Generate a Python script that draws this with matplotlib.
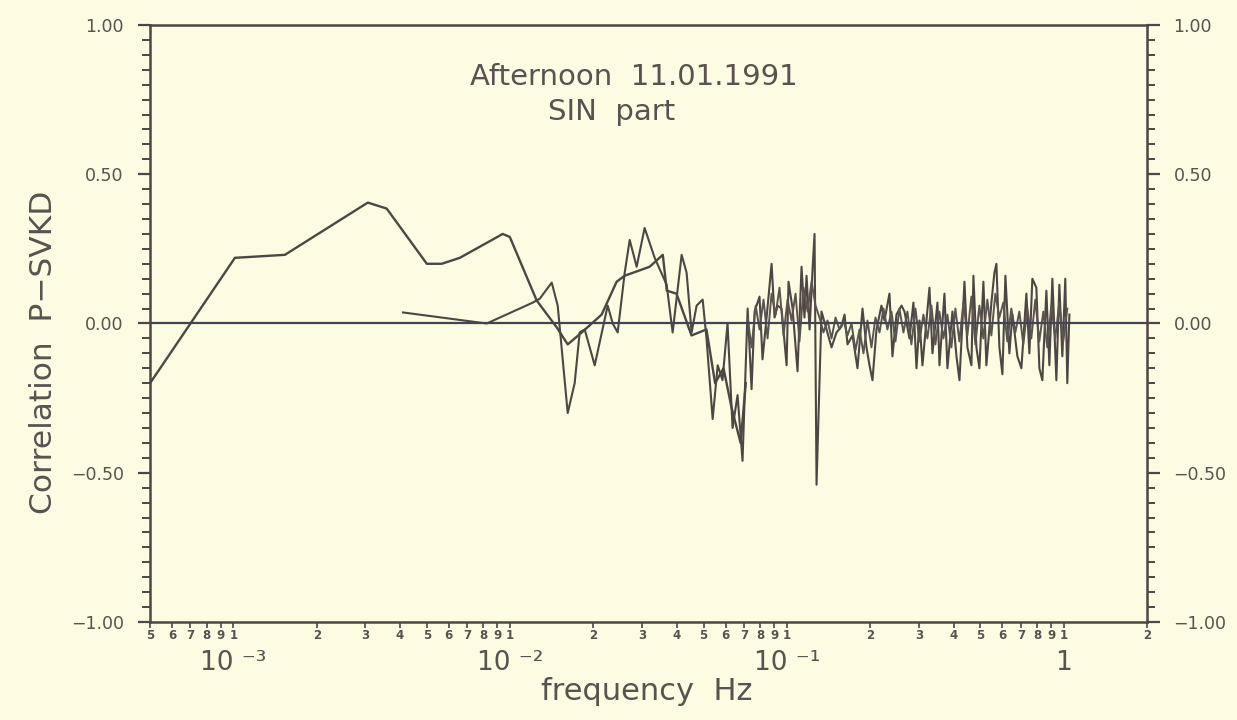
import matplotlib
matplotlib.use("Agg")
import matplotlib.pyplot as plt
from matplotlib.ticker import FixedLocator, FixedFormatter, MultipleLocator

# ---------------- data ----------------
freq_a = [5.0e-4, 1.013e-3, 1.535e-3, 3.06e-3, 3.58e-3, 5.0e-3, 5.66e-3, 6.58e-3,
          9.40e-3, 9.97e-3, 1.247e-2, 1.473e-2, 1.614e-2, 1.814e-2, 2.141e-2,
          2.425e-2, 2.593e-2, 3.19e-2, 3.56e-2, 3.68e-2, 3.99e-2, 4.52e-2,
          5.12e-2, 5.5e-2, 5.9e-2, 6.3e-2, 6.8e-2, 7.1e-2]
corr_a = [-0.20, 0.22, 0.23, 0.405, 0.385, 0.20, 0.20, 0.22,
          0.30, 0.29, 0.077, -0.013, -0.07, -0.03, 0.03,
          0.14, 0.16, 0.19, 0.23, 0.11, 0.10, -0.04,
          -0.02, -0.20, -0.15, -0.28, -0.40, -0.20]

freq_b = [4.10e-3, 8.23e-3, 1.207e-2, 1.279e-2, 1.413e-2, 1.485e-2, 1.614e-2,
          1.710e-2, 1.783e-2, 1.859e-2, 2.020e-2, 2.251e-2, 2.347e-2, 2.446e-2,
          2.593e-2, 2.703e-2, 2.864e-2, 3.060e-2, 3.327e-2, 3.675e-2, 3.864e-2,
          4.164e-2, 4.340e-2, 4.523e-2, 4.717e-2, 4.96e-2, 5.12e-2, 5.39e-2,
          5.62e-2, 5.85e-2, 6.10e-2, 6.36e-2, 6.63e-2, 6.91e-2, 7.21e-2, 7.45e-2,
          7.64e-2, 7.96e-2, 8.16e-2, 8.44e-2, 8.80e-2, 9.02e-2, 9.25e-2, 9.56e-2,
          9.97e-2, 0.1013, 0.1048, 0.1092, 0.1129, 0.1157, 0.1177, 0.1207, 0.1237,
          0.1258, 0.1279, 0.1333, 0.1390, 0.1449, 0.1510, 0.1574, 0.1614, 0.1655,
          0.1725, 0.1798, 0.1875, 0.1938, 0.1987, 0.2037, 0.2106, 0.2195, 0.2251,
          0.2346, 0.2405, 0.2487, 0.2593, 0.2658, 0.2771, 0.2864, 0.2937, 0.3011,
          0.3087, 0.3192, 0.3272, 0.3355, 0.3497, 0.3556, 0.3707, 0.3800, 0.3962,
          0.4097, 0.4200, 0.4378, 0.4487, 0.4639, 0.4717, 0.4836, 0.4958, 0.5125,
          0.5255, 0.5478, 0.5617, 0.5711, 0.5855, 0.6003, 0.6155, 0.6362, 0.6523,
          0.6800, 0.7030, 0.7328, 0.7513, 0.7702, 0.7963, 0.8165, 0.8370, 0.8654,
          0.8872, 0.9096, 0.9404, 0.9641, 0.9884, 1.013, 1.030, 1.048]
corr_b = [0.037, 0.0, 0.07, 0.083, 0.137, 0.06, -0.30,
          -0.20, -0.03, -0.02, -0.14, 0.06, 0.0, -0.03,
          0.17, 0.28, 0.19, 0.32, 0.22, 0.13, -0.03,
          0.23, 0.17, -0.03, 0.06, 0.08, -0.05, -0.32,
          -0.14, -0.19, 0.0, -0.35, -0.24, -0.46, 0.05, -0.22,
          0.04, 0.09, -0.12, 0.02, 0.20, 0.02, 0.06, 0.05,
          -0.14, 0.14, 0.05, -0.16, 0.19, 0.02, 0.16, -0.02, 0.18,
          0.30, -0.54, 0.04, -0.02, -0.08, -0.03, -0.01, 0.03, -0.07,
          -0.04, -0.15, 0.05, -0.08, -0.14, -0.19, -0.02, 0.06, 0.01,
          0.10, -0.11, 0.03, 0.06, 0.04, -0.05, 0.07, -0.15, 0.01,
          -0.14, 0.01, 0.12, -0.10, 0.07, -0.14, 0.10, -0.15, 0.04,
          -0.11, -0.19, 0.14, -0.08, -0.14, 0.16, -0.08, -0.15, 0.14,
          -0.14, 0.07, 0.17, 0.20, -0.08, -0.17, 0.16, -0.10, 0.03,
          -0.11, -0.15, 0.10, -0.10, 0.15, 0.12, -0.15, -0.19, 0.11,
          -0.14, 0.15, -0.19, 0.13, -0.11, 0.15, -0.20, 0.03]

# dense inner band of the overlapping high-frequency traces
freq_c = [0.0721, 0.0745, 0.0771, 0.0796, 0.0823, 0.0851, 0.0880, 0.0910,
          0.0940, 0.0972, 0.1005, 0.1039, 0.1074, 0.1110, 0.1148, 0.1187,
          0.1227, 0.1268, 0.1311, 0.1355, 0.1401, 0.1449, 0.1498, 0.1548,
          0.1600, 0.1655, 0.1711, 0.1768, 0.1828, 0.1890, 0.1954, 0.2020,
          0.2088, 0.2159, 0.2232, 0.2307, 0.2385, 0.2466, 0.2549, 0.2635,
          0.2724, 0.2816, 0.2912, 0.3010, 0.3112, 0.3217, 0.3326, 0.3438,
          0.3554, 0.3675, 0.3799, 0.3927, 0.4060, 0.4197, 0.4339, 0.4486,
          0.4637, 0.4794, 0.4956, 0.5124, 0.5297, 0.5476, 0.5661, 0.5852,
          0.6050, 0.6255, 0.6466, 0.6685, 0.6911, 0.7144, 0.7386, 0.7635,
          0.7893, 0.8160, 0.8436, 0.8721, 0.9016, 0.9320, 0.9635, 0.9961, 1.030]
corr_c = [0.02, -0.08, 0.06, -0.02, 0.08, -0.05, 0.10, 0.03,
          0.12, -0.04, 0.08, 0.01, 0.10, -0.06, 0.12, 0.04,
          0.14, 0.06, 0.02, -0.03, 0.01, -0.05, 0.02, -0.02,
          0.01, -0.04, 0.0, -0.09, -0.02, -0.10, 0.01, -0.08,
          0.02, -0.03, 0.05, -0.02, 0.04, -0.06, 0.05, -0.03,
          0.04, -0.07, 0.05, -0.06, 0.03, -0.05, 0.06, -0.07,
          0.04, -0.05, 0.03, -0.08, 0.05, -0.06, 0.07, -0.04,
          0.09, -0.07, 0.06, -0.05, 0.08, -0.04, 0.10, 0.02,
          0.07, -0.06, 0.05, -0.03, 0.04, -0.07, 0.05, -0.05,
          0.08, -0.06, 0.04, -0.08, 0.06, -0.05, 0.07, -0.06, 0.05]

y_ticks = [-1.0, -0.5, 0.0, 0.5, 1.0]
y_ticklabels = ["\u22121.00", "\u22120.50", "0.00", "0.50", "1.00"]
decade_ticks = [1e-3, 1e-2, 1e-1, 1.0]
decade_labels = ["10 \u207b\u00b3", "10 \u207b\u00b2", "10 \u207b\u00b9", "1"]
x_limits = (5e-4, 2.0)
title_line1 = "Afternoon  11.01.1991"
title_line2 = "SIN  part"

# ---------------- style ----------------
bg = "#fdfbe2"
ink = "#4e4644"
txt = "#5a5150"

fig = plt.figure(figsize=(12.37, 7.2), dpi=100, facecolor=bg)
ax = fig.add_axes([0.1213, 0.1361, 0.806, 0.8292], facecolor=bg)

ax.plot(freq_a, corr_a, color=ink, lw=1.7)
ax.plot(freq_b, corr_b, color=ink, lw=1.5)
ax.plot(freq_c, corr_c, color="#5c5450", lw=1.4)
ax.axhline(0.0, color="#3f4552", lw=1.6)

ax.set_xscale("log")
ax.set_xlim(*x_limits)
ax.set_ylim(-1.0, 1.0)

for s in ax.spines.values():
    s.set_color(ink)
    s.set_linewidth(1.8)

# y axis, both sides
ax.yaxis.set_major_locator(FixedLocator(y_ticks))
ax.yaxis.set_major_formatter(FixedFormatter(y_ticklabels))
ax.yaxis.set_minor_locator(MultipleLocator(0.05))
ax.tick_params(axis="y", which="both", left=True, right=True, labelleft=True,
               labelright=True, direction="out", colors=ink, labelcolor=txt,
               labelsize=12.5)
ax.tick_params(axis="y", which="major", length=9, width=1.6, pad=10)
ax.tick_params(axis="y", which="minor", length=5.5, width=1.4)

# x axis: small digit labels at every mantissa, big decade labels below
minor_pos = []
minor_lab = []
for e in range(-4, 1):
    for m in range(1, 10):
        v = m * 10.0 ** e
        if x_limits[0] * 0.999 <= v <= x_limits[1] * 1.001:
            minor_pos.append(v)
            minor_lab.append(str(m))
ax.xaxis.remove_overlapping_locs = False
ax.xaxis.set_major_locator(FixedLocator(decade_ticks))
ax.xaxis.set_major_formatter(FixedFormatter(decade_labels))
ax.xaxis.set_minor_locator(FixedLocator(minor_pos))
ax.xaxis.set_minor_formatter(FixedFormatter(minor_lab))
ax.tick_params(axis="x", which="minor", direction="out", length=4, width=1.2,
               colors=ink, labelcolor=txt, labelsize=8.5, pad=1)
ax.tick_params(axis="x", which="major", length=0, labelcolor=txt,
               labelsize=19, pad=20)
for lab in ax.xaxis.get_minorticklabels():
    lab.set_fontweight("bold")

ax.set_xlabel("frequency  Hz", fontsize=22, color=txt)
ax.xaxis.set_label_coords(0.498, -0.092)
ax.set_ylabel("Correlation  P\u2212SVKD", fontsize=22.5, color=txt)
ax.yaxis.set_label_coords(-0.092, 0.452)

ax.text(0.485, 0.937, title_line1, transform=ax.transAxes, ha="center",
        va="top", fontsize=21, color=txt)
ax.text(0.463, 0.878, title_line2, transform=ax.transAxes, ha="center",
        va="top", fontsize=21, color=txt)

fig.savefig("out.png", dpi=100, facecolor=bg)
